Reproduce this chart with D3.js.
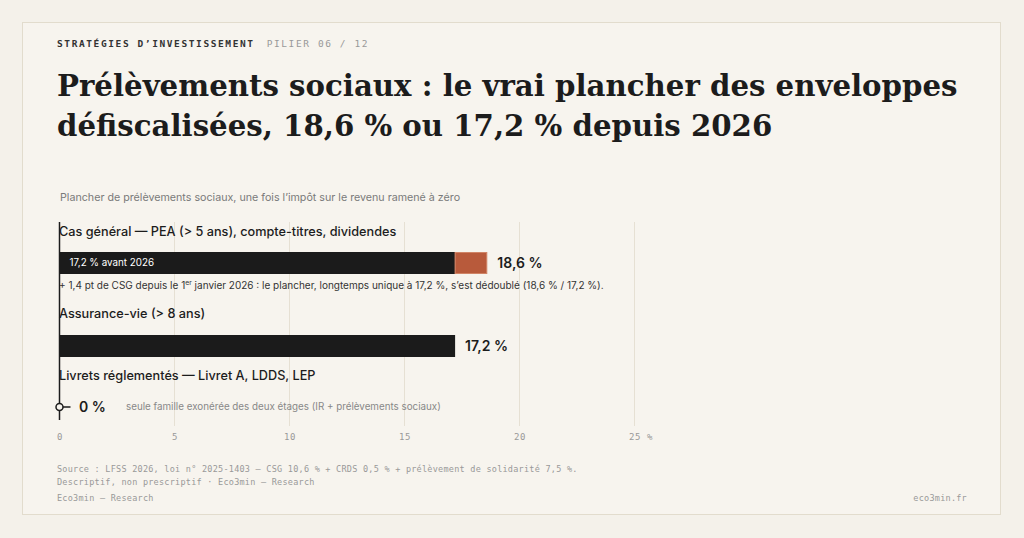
<!DOCTYPE html>
<html><head><meta charset="utf-8">
<script src="https://cdn.jsdelivr.net/npm/d3@7"></script>
<style>
html,body{margin:0;padding:0;background:#f4f1ea;}
svg{display:block;}
</style></head>
<body>
<svg id="c" width="1024" height="538"></svg>
<script>
const categories = ["Cas général — PEA (> 5 ans), compte-titres, dividendes","Assurance-vie (> 8 ans)","Livrets réglementés — Livret A, LDDS, LEP"];
const baseValues = [17.2, 17.2, 0];
const csgIncrease = [1.4, 0, 0];
const totalLabels = ["18,6 %","17,2 %","0 %"];
const tickValues = [0,5,10,15,20,25];
const tickLabels = ["0","5","10","15","20","25 %"];

const svg = d3.select("#c");
const sans = "Inter, 'Noto Sans', sans-serif";
const mono = "'DejaVu Sans Mono', 'Liberation Mono', monospace";
const serif = "'DejaVu Serif', 'Liberation Serif', serif";

svg.append("rect").attr("x",22.5).attr("y",22.5).attr("width",978).attr("height",492)
  .attr("fill","#f7f4ee").attr("stroke","#e2dccd");

// header
const h = svg.append("text").attr("x",57).attr("y",47).attr("font-family",mono).attr("font-size",9.5).attr("letter-spacing",1.6);
h.append("tspan").attr("font-weight","bold").attr("fill","#333").text("STRATÉGIES D’INVESTISSEMENT");
h.append("tspan").attr("fill","#999").attr("dx",12).text("PILIER 06 / 12");

const titleLines = ["Prélèvements sociaux : le vrai plancher des enveloppes","défiscalisées, 18,6 % ou 17,2 % depuis 2026"];
const t1 = svg.append("text").attr("x",57).attr("y",96).attr("font-family",serif).attr("font-weight","bold").attr("font-size",32).attr("fill","#1c1c1c").text(titleLines[0]);
const len = t1.node().getComputedTextLength();
const fs = 32*901/len;
t1.attr("font-size",fs);
svg.append("text").attr("x",57).attr("y",136).attr("font-family",serif).attr("font-weight","bold").attr("font-size",fs).attr("fill","#1c1c1c").text(titleLines[1]);

svg.append("text").attr("x",60).attr("y",201).attr("font-family",sans).attr("font-size",10.7).attr("fill","#7a7a7a")
  .text("Plancher de prélèvements sociaux, une fois l’impôt sur le revenu ramené à zéro");

const x = d3.scaleLinear().domain([0,25]).range([59.5,634.5]);

// gridlines
svg.append("g").selectAll("line").data(tickValues.slice(1)).join("line")
  .attr("x1",d=>x(d)).attr("x2",d=>x(d)).attr("y1",222).attr("y2",426)
  .attr("stroke","#e6e0d3").attr("stroke-width",1);

// axis ticks
const ax = svg.append("g").attr("transform","translate(0,426)")
  .call(d3.axisBottom(x).tickValues(tickValues).tickFormat((d,i)=>tickLabels[i]).tickSize(0).tickPadding(8));
ax.select(".domain").remove();
ax.selectAll("text").attr("font-family",mono).attr("font-size",9).attr("letter-spacing",0.6).attr("fill","#999");
ax.selectAll("text").filter(d=>d===25).attr("text-anchor","start").attr("dx",-6);

const labelY = [236, 318, 380];
const barY = [252, 335];
const barH = 22;

categories.forEach((c,i)=>{
  svg.append("text").attr("x",59).attr("y",labelY[i]).attr("font-family",sans).attr("font-size",12.7).attr("font-weight",500).attr("fill","#1c1c1c").text(c);
});

// bars
[0,1].forEach(i=>{
  svg.append("rect").attr("x",x(0)).attr("y",barY[i]).attr("width",x(baseValues[i])-x(0)).attr("height",barH).attr("fill","#1b1b1b");
  if (csgIncrease[i]>0) {
    svg.append("rect").attr("x",x(baseValues[i])).attr("y",barY[i]+0.5).attr("width",x(baseValues[i]+csgIncrease[i])-x(baseValues[i])-0.5).attr("height",barH-1)
      .attr("fill","#b85a3b").attr("stroke","#d08466").attr("stroke-width",1);
  }
  svg.append("text").attr("x",x(baseValues[i]+csgIncrease[i])+10).attr("y",barY[i]+barH/2).attr("dy","0.35em")
    .attr("font-family",sans).attr("font-size",14).attr("font-weight",600).attr("fill","#1c1c1c").text(totalLabels[i]);
});
svg.append("text").attr("x",x(0)+10).attr("y",barY[0]+barH/2).attr("dy","0.35em").attr("font-family",sans).attr("font-size",9.8).attr("fill","#fff").text("17,2 % avant 2026");

// annotation
const an = svg.append("text").attr("x",59).attr("y",289).attr("font-family",sans).attr("font-size",10).attr("fill","#333");
an.append("tspan").text("+ 1,4 pt de CSG depuis le 1");
an.append("tspan").attr("font-size",6.8).attr("dy",-4).text("er");
an.append("tspan").attr("dy",4).text(" janvier 2026 : le plancher, longtemps unique à 17,2 %, s’est dédoublé (18,6 % / 17,2 %).");

// left axis line
svg.append("line").attr("x1",x(0)).attr("x2",x(0)).attr("y1",222).attr("y2",420).attr("stroke","#1c1c1c").attr("stroke-width",1.5);

// zero marker
const zy = 407;
svg.append("line").attr("x1",x(baseValues[2])).attr("x2",x(0)+11).attr("y1",zy).attr("y2",zy).attr("stroke","#1c1c1c").attr("stroke-width",1.5);
svg.append("circle").attr("cx",x(baseValues[2])).attr("cy",zy).attr("r",3.5).attr("fill","#f7f4ee").attr("stroke","#1c1c1c").attr("stroke-width",1.5);
svg.append("text").attr("x",79).attr("y",zy).attr("dy","0.35em").attr("font-family",sans).attr("font-size",14).attr("font-weight",600).attr("fill","#1c1c1c").text(totalLabels[2]);
svg.append("text").attr("x",126).attr("y",zy).attr("dy","0.35em").attr("font-family",sans).attr("font-size",9.8).attr("fill","#888").text("seule famille exonérée des deux étages (IR + prélèvements sociaux)");

// footer
const foot = [["Source : LFSS 2026, loi n° 2025-1403 — CSG 10,6 % + CRDS 0,5 % + prélèvement de solidarité 7,5 %.",472],["Descriptif, non prescriptif · Eco3min — Research",485],["Eco3min — Research",501]];
foot.forEach(f=>svg.append("text").attr("x",57).attr("y",f[1]).attr("font-family",mono).attr("font-size",8.5).attr("letter-spacing",0.25).attr("fill","#999").text(f[0]));
svg.append("text").attr("x",967).attr("y",501).attr("text-anchor","end").attr("font-family",mono).attr("font-size",8.5).attr("letter-spacing",0.25).attr("fill","#999").text("eco3min.fr");
</script>
</body></html>
